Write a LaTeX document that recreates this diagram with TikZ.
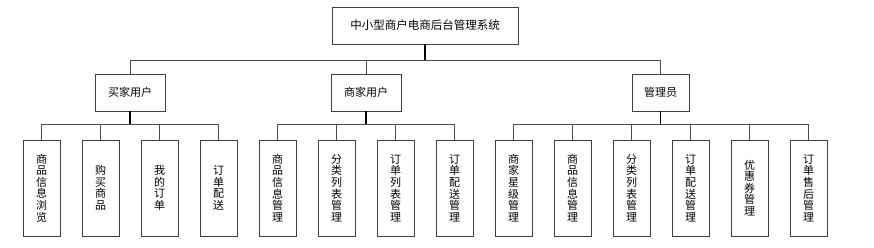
\documentclass[tikz,border=0pt]{standalone}
\usepackage{fontspec}
\setmainfont{Noto Sans CJK SC}
\usetikzlibrary{positioning}

\begin{document}
\begin{tikzpicture}[x=1pt,y=-1pt,
  box/.style={draw=black!75, line width=0.9pt, fill=white, inner sep=0pt,
    font=\fontsize{11}{11.6}\selectfont},
  head/.style={box, minimum width=70pt, minimum height=37pt},
  leaf/.style={box, minimum width=37pt, minimum height=96pt, align=center},
  link/.style={draw=black!70, line width=0.9pt},
  trunk/.style={draw=black, line width=1.5pt}]
  \useasboundingbox (0,0) rectangle (874,247);

  % top
  \node[box, minimum width=186pt, minimum height=37pt,
    font=\fontsize{11.5}{12}\selectfont] (sys) at (425,25.5) {中小型商户电商后台管理系统};

  % users
  \node[head] (buyer) at (130,92.5) {买家用户};
  \node[head] (merch) at (366,92.5) {商家用户};
  \node[head, minimum width=57pt] (admin) at (660.5,92.5) {管理员};

  \draw[trunk] (sys.south) -- ++(0,16) coordinate (topbus);
  \foreach \u in {buyer,merch,admin}
    \draw[link] (topbus) -| (\u.north);

  % buyer modules
  \foreach \t [count=\i] in {{商\\品\\信\\息\\浏\\览},{购\\买\\商\\品},{我\\的\\订\\单},{订\\单\\配\\送}}
    \node[leaf] (b\i) at ({41.5+59*(\i-1)},188) {\t};
  \draw[trunk] (buyer.south) -- ++(0,13) coordinate (bbus);
  \foreach \i in {1,...,4}
    \draw[link] (bbus) -| (b\i.north);

  % merchant modules
  \foreach \t [count=\i] in {{商\\品\\信\\息\\管\\理},{分\\类\\列\\表\\管\\理},{订\\单\\列\\表\\管\\理},{订\\单\\配\\送\\管\\理}}
    \node[leaf] (m\i) at ({277.5+59*(\i-1)},188) {\t};
  \draw[trunk] (merch.south) -- ++(0,13) coordinate (mbus);
  \foreach \i in {1,...,4}
    \draw[link] (mbus) -| (m\i.north);

  % admin modules
  \foreach \t [count=\i] in {{商\\家\\星\\级\\管\\理},{商\\品\\信\\息\\管\\理},{分\\类\\列\\表\\管\\理},{订\\单\\配\\送\\管\\理},{优\\惠\\券\\管\\理},{订\\单\\售\\后\\管\\理}}
    \node[leaf] (a\i) at ({513.5+59*(\i-1)},188) {\t};
  \draw[trunk] (admin.south) -- ++(0,13) coordinate (abus);
  \foreach \i in {1,...,6}
    \draw[link] (abus) -| (a\i.north);
\end{tikzpicture}
\end{document}
